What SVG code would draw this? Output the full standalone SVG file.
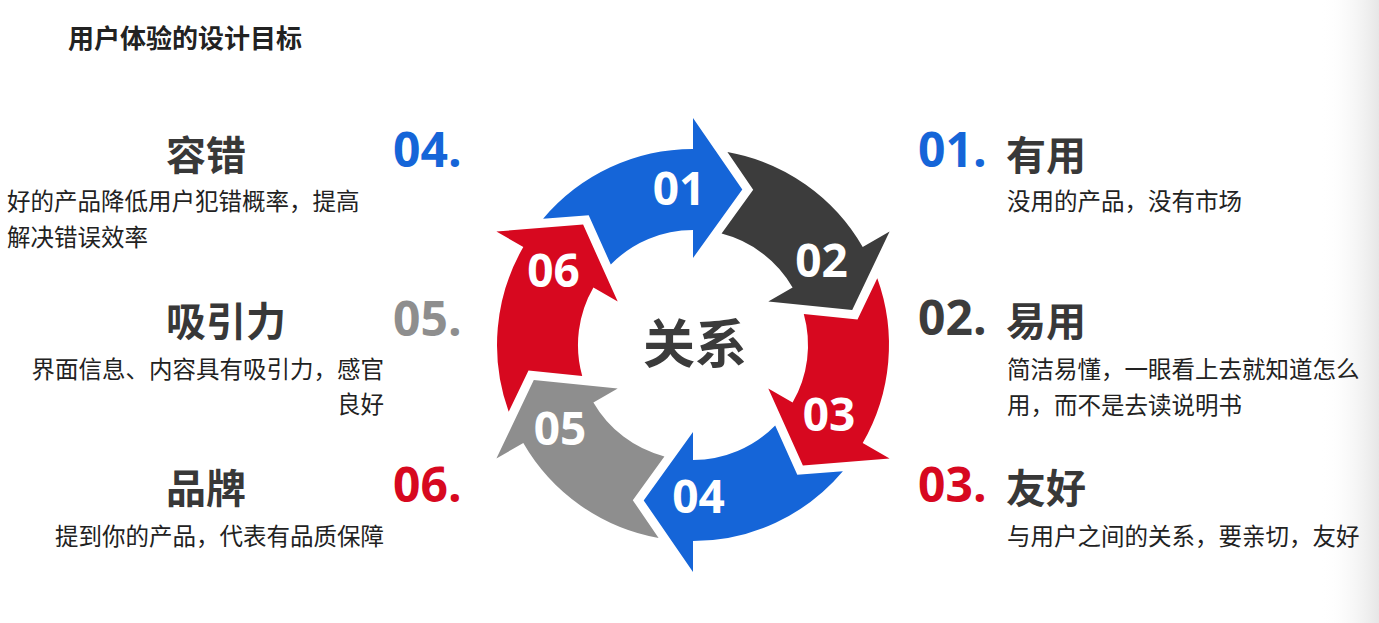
<svg xmlns="http://www.w3.org/2000/svg" width="1379" height="623" viewBox="0 0 1379 623">
<defs>
<linearGradient id="edge" x1="0" y1="0" x2="1" y2="0">
<stop offset="0" stop-color="#ffffff" stop-opacity="0"/>
<stop offset="1" stop-color="#e6e6e6"/>
</linearGradient>
</defs>
<style>
.num{font-family:"Open Sans","Liberation Sans",sans-serif;font-weight:700}
.arr{font-family:"Open Sans","Liberation Sans",sans-serif;font-weight:700;font-size:46px;fill:#fff;text-anchor:middle}
.head{font-family:"Noto Sans CJK SC",sans-serif;font-weight:700;font-size:40px;fill:#383838}
.desc{font-family:"Noto Sans CJK SC",sans-serif;font-size:23.5px;fill:#222}
.blue{fill:#1565d8}.red{fill:#d7081f}.dark{fill:#3c3c3c}.gray{fill:#8e8e8e}
</style>
<rect width="1379" height="623" fill="#fff"/>
<rect x="1320" y="0" width="59" height="623" fill="url(#edge)"/>
<text x="68" y="48" font-family="Noto Sans CJK SC, sans-serif" font-weight="700" font-size="26" fill="#222">用户体验的设计目标</text>

<g id="cycle">
<g id="arrow01"><path class="blue" d="M543.1 218.7 A196 196 0 0 1 693 149 L693 118 L742.3 189.6 L693 258 L693 230 A115 115 0 0 0 610.8 264.5 L588.7 215.2 Z"/><text class="arr" x="679" y="205">01</text></g>
<g id="arrow02"><path class="dark" d="M727.4 152 A196 196 0 0 1 862.7 247 L889.6 231.5 L852.2 310 L768.3 301.5 L792.6 287.5 A115 115 0 0 0 721.6 233.6 L753.2 189.8 Z"/><text class="arr" x="821.5" y="277">02</text></g>
<g id="arrow03"><path class="red" d="M877.3 278.3 A196 196 0 0 1 862.7 443 L889.6 458.5 L802.9 465.4 L768.3 388.5 L792.6 402.5 A115 115 0 0 0 803.8 314.1 L857.5 319.5 Z"/><text class="arr" x="829" y="431">03</text></g>
<g id="arrow04"><path class="blue" d="M842.9 471.3 A196 196 0 0 1 693 541 L693 572 L643.7 500.4 L693 432 L693 460 A115 115 0 0 0 775.2 425.5 L797.3 474.8 Z"/><text class="arr" x="698.5" y="513">04</text></g>
<g id="arrow05"><path class="gray" d="M658.6 538 A196 196 0 0 1 523.3 443 L496.4 458.5 L533.8 380 L617.7 388.5 L593.4 402.5 A115 115 0 0 0 664.4 456.4 L632.8 500.2 Z"/><text class="arr" x="560" y="445">05</text></g>
<g id="arrow06"><path class="red" d="M508.7 411.7 A196 196 0 0 1 523.3 247 L496.4 231.5 L583.1 224.6 L617.7 301.5 L593.4 287.5 A115 115 0 0 0 582.2 375.9 L528.5 370.5 Z"/><text class="arr" x="553.5" y="287">06</text></g>
<text id="center" x="695" y="363" text-anchor="middle" font-family="Noto Sans CJK SC, sans-serif" font-weight="700" font-size="52" fill="#3b3b3b">关系</text>
</g>

<g id="item01">
<text class="num blue" x="918" y="167" font-size="48">01.</text>
<text class="head" x="1006" y="170">有用</text>
<text class="desc" x="1007" y="210">没用的产品，没有市场</text>
</g>
<g id="item02">
<text class="num dark" x="918" y="335" font-size="48">02.</text>
<text class="head" x="1006" y="336">易用</text>
<text class="desc" x="1007" y="378">简洁易懂，一眼看上去就知道怎么</text>
<text class="desc" x="1007" y="414">用，而不是去读说明书</text>
</g>
<g id="item03">
<text class="num red" x="918" y="502" font-size="48">03.</text>
<text class="head" x="1006" y="503">友好</text>
<text class="desc" x="1007" y="545">与用户之间的关系，要亲切，友好</text>
</g>
<g id="item04">
<text class="num blue" x="393" y="167" font-size="48">04.</text>
<text class="head" x="166" y="170">容错</text>
<text class="desc" x="7" y="210">好的产品降低用户犯错概率，提高</text>
<text class="desc" x="7" y="246">解决错误效率</text>
</g>
<g id="item05">
<text class="num gray" x="393" y="336" font-size="48">05.</text>
<text class="head" x="166" y="336">吸引力</text>
<text class="desc" x="384" y="378" text-anchor="end">界面信息、内容具有吸引力，感官</text>
<text class="desc" x="384" y="413" text-anchor="end">良好</text>
</g>
<g id="item06">
<text class="num red" x="393" y="502" font-size="48">06.</text>
<text class="head" x="166" y="503">品牌</text>
<text class="desc" x="384" y="545" text-anchor="end">提到你的产品，代表有品质保障</text>
</g>
<g id="connectors"/>
</svg>
